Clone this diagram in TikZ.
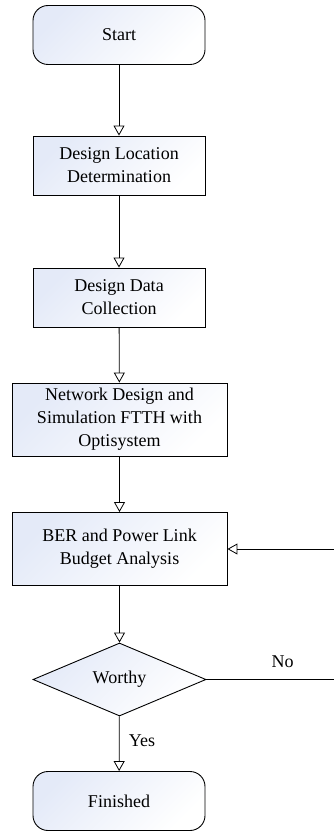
\documentclass[tikz,border=0pt]{standalone}
\usepackage{fontspec}
\setmainfont{Liberation Serif}
\usetikzlibrary{shapes.geometric, positioning, arrows.meta}

\definecolor{boxtint}{RGB}{228,234,248}

\begin{document}
\begin{tikzpicture}[
  x=1pt, y=-1pt,
  font=\fontsize{18}{23}\selectfont,
  shadefill/.style={left color=boxtint, right color=white, shading angle=45, draw, line width=0.9pt},
  termnode/.style={shadefill, rounded corners=15pt, minimum width=172pt, minimum height=59pt, align=center},
  procnode/.style={shadefill, minimum width=172pt, minimum height=59pt, align=center},
  widenode/.style={shadefill, minimum width=215pt, minimum height=73pt, align=center},
  decnode/.style={shadefill, diamond, inner sep=0pt, minimum width=173pt, minimum height=73pt},
  flow/.style={-{Triangle[open, length=10pt, width=11pt]}, line width=0.8pt}
]

\clip (0,0) rectangle (334,832);

% -------------------------
% NODES
% -------------------------

\node[termnode] (start) at (119,35) {Start};
\node[procnode] (location) at (119,165.5) {Design Location\\Determination};
\node[procnode] (datacoll) at (119,297.5) {Design Data\\Collection};
\node[widenode] (netdesign) at (119.5,419.5) {Network Design and\\Simulation FTTH with\\Optisystem};
\node[widenode] (analysis) at (119.5,549) {BER and Power Link\\Budget Analysis};
\node[decnode] (worthy) at (119.5,679.5) {Worthy};
\node[termnode] (finished) at (119,801) {Finished};

% loop back point (outside the page edge)
\coordinate (loopback) at (340,679.5);

% -------------------------
% CONNECTORS
% -------------------------

\draw[flow] (start) -- (location);
\draw[flow] (location) -- (datacoll);
\draw[flow] (datacoll) -- (netdesign);
\draw[flow] (netdesign) -- (analysis);
\draw[flow] (analysis) -- (worthy);
\draw[flow] (worthy) -- node[right=6pt, pos=0.45] {Yes} (finished);
\draw[flow] (worthy.east) -- node[above=8pt, pos=0.57] {No} (loopback) |- (analysis.east);

\end{tikzpicture}
\end{document}
